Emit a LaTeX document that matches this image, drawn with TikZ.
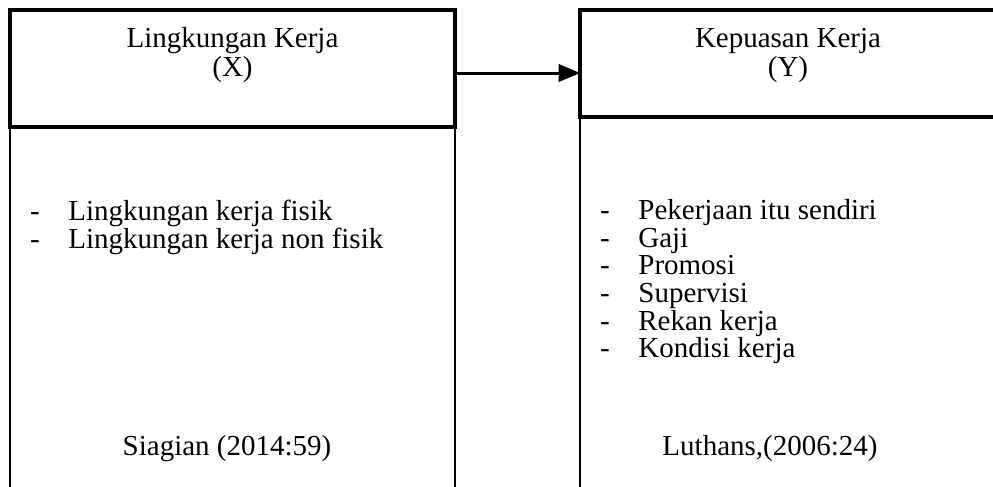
\documentclass[tikz,border=0pt]{standalone}
\usepackage{fontspec}
\setmainfont{Liberation Serif}
\usepackage{tikz}
\usetikzlibrary{arrows}
\tikzset{headbox/.style={draw, line width=2pt, inner sep=0pt, outer sep=0pt, minimum width=222.5pt}}
\tikzset{lowbox/.style={draw, line width=0.8pt}}
\tikzset{vartext/.style={anchor=base, align=center, inner sep=0pt, font=\fontsize{14.5pt}{13pt}\selectfont}}
\tikzset{itemtext/.style={anchor=base west, inner sep=0pt, font=\fontsize{14.5pt}{14pt}\selectfont}}
\tikzset{dashmark/.style={anchor=base, inner sep=0pt, font=\fontsize{14.5pt}{14pt}\selectfont}}

\begin{document}
\begin{tikzpicture} [x=0.5pt, y=-0.5pt]
\useasboundingbox (0,0) rectangle (993,487);
\clip (0,0) rectangle (993,487);
\node[headbox, minimum height=58.5pt] (lingkX) at (232.5,68.5) {};
\node[headbox, minimum height=53.5pt] (kepY) at (802.5,63.5) {};
\draw[lowbox] (lingkX.south west) -- ++(0,400) (lingkX.south east) -- ++(0,400);
\draw[lowbox] (kepY.south west) -- ++(0,400);
\coordinate (arrowlvl) at (0,73);
\draw[black, line width=1.5pt, ->, >=triangle 45] (lingkX.east |- arrowlvl) -- (kepY.west |- arrowlvl);
\node[vartext] (lingkXtxt) at (232.5,76) {Lingkungan Kerja\\(X)};
\node[vartext] (kepYtxt) at (788,76) {Kepuasan Kerja\\(Y)};
\foreach \entry [count=\i] in {Lingkungan kerja fisik, Lingkungan kerja non fisik} {
 \node[dashmark] (xd\i) at (35,193+27.6*\i) {-};
 \node[itemtext] (xt\i) at (68,193+27.6*\i) {\entry};
}
\foreach \entry [count=\i] in {Pekerjaan itu sendiri, Gaji, Promosi, Supervisi, Rekan kerja, Kondisi kerja} {
 \node[dashmark] (yd\i) at (605,192+27.6*\i) {-};
 \node[itemtext] (yt\i) at (638,192+27.6*\i) {\entry};
}
\node[vartext] (lingkXsrc) at (227,455) {Siagian (2014:59)};
\node[vartext] (kepYsrc) at (770,455) {Luthans,(2006:24)};
\end{tikzpicture}
\end{document}
